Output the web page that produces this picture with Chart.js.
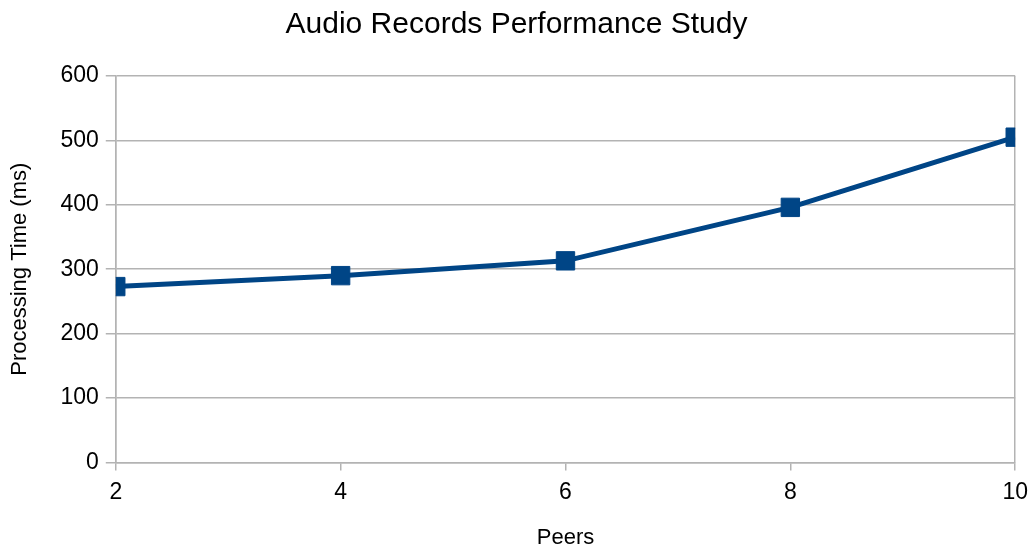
<!DOCTYPE html>
<html>
<head>
<meta charset="utf-8">
<script src="https://cdn.jsdelivr.net/npm/chart.js"></script>
<style>
  html, body { margin: 0; padding: 0; background: #fff; }
  #box { width: 1036px; height: 547px; }
</style>
</head>
<body>
<div id="box"><canvas id="grafico"></canvas></div>
<script>
const peers = [2, 4, 6, 8, 10];
const tempos = [273, 290, 313, 396, 505];
const yTicks = [0, 100, 200, 300, 400, 500, 600];

const azul = '#004586';
const cinza = '#b3b3b3';

const ctx = document.getElementById('grafico').getContext('2d');

new Chart(ctx, {
    type: 'line',
    data: {
        datasets: [{
            label: 'Processing Time',
            data: peers.map((p, i) => ({ x: p, y: tempos[i] })),
            borderColor: azul,
            backgroundColor: azul,
            borderWidth: 5,
            pointStyle: 'rect',
            pointRadius: 13,
            pointHoverRadius: 13,
            pointBorderWidth: 1,
            tension: 0
        }]
    },
    options: {
        responsive: true,
        maintainAspectRatio: false,
        animation: false,
        layout: { padding: { left: 7, right: 10, top: 3, bottom: -2 } },
        plugins: {
            legend: { display: false },
            tooltip: { enabled: false },
            title: {
                display: true,
                text: 'Audio Records Performance Study',
                color: '#000',
                font: { family: 'Liberation Sans', size: 30, weight: 'normal' },
                padding: { top: 4, bottom: 33 }
            }
        },
        scales: {
            x: {
                type: 'linear',
                min: 2,
                max: 10,
                afterBuildTicks: axis => { axis.ticks = peers.map(v => ({ value: v })); },
                ticks: {
                    color: '#000',
                    font: { family: 'Liberation Sans', size: 23 },
                    padding: 8
                },
                grid: {
                    color: c => (c.index === 0 || c.index === peers.length - 1) ? cinza : 'rgba(0,0,0,0)',
                    tickColor: cinza,
                    tickLength: 8,
                    lineWidth: 1.5
                },
                border: { display: true, color: cinza, width: 1.5 },
                title: {
                    display: true,
                    text: 'Peers',
                    color: '#000',
                    font: { family: 'Liberation Sans', size: 22, lineHeight: 1 },
                    padding: { top: 13, bottom: 0 }
                }
            },
            y: {
                min: 0,
                max: 600,
                afterBuildTicks: axis => { axis.ticks = yTicks.map(v => ({ value: v })); },
                ticks: {
                    color: '#000',
                    font: { family: 'Liberation Sans', size: 23 },
                    padding: 7
                },
                grid: {
                    color: cinza,
                    tickColor: cinza,
                    tickLength: 10,
                    lineWidth: 1.5
                },
                border: { display: true, color: cinza, width: 1.5 },
                title: {
                    display: true,
                    text: 'Processing Time (ms)',
                    color: '#000',
                    font: { family: 'Liberation Sans', size: 22 },
                    padding: { top: 0, bottom: 20 }
                }
            }
        }
    }
});
</script>
</body>
</html>
